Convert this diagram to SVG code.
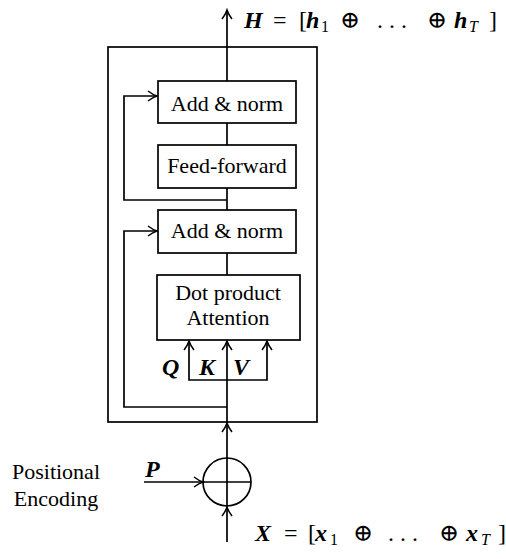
<svg xmlns="http://www.w3.org/2000/svg" width="506" height="559" viewBox="0 0 506 559">
<style>
.box{fill:#fff;stroke:#000;stroke-width:1.7}
.ln{fill:none;stroke:#000;stroke-width:1.7}
.t{font-family:"Liberation Serif","DejaVu Serif",serif;font-size:22px;fill:#000;text-anchor:middle}
.m{font-family:"Liberation Serif","DejaVu Serif",serif;font-size:24px;fill:#000}
.bi{font-weight:bold;font-style:italic}
.it{font-style:italic}
.sub{font-size:16px}
</style>
<defs>
<marker id="arr" viewBox="-11 -7 13 14" refX="0" refY="0" markerWidth="13" markerHeight="14" markerUnits="userSpaceOnUse" orient="auto">
<path d="M-9,-5 Q-4,-1.2 0,0 Q-4,1.2 -9,5" fill="none" stroke="#000" stroke-width="1.5"/>
</marker>
</defs>
<rect id="encoder" class="box" x="108" y="47" width="209" height="375" fill="none"/>
<g id="connectors">
<line class="ln" x1="227" y1="81" x2="227" y2="10" marker-end="url(#arr)"/>
<line class="ln" x1="227" y1="123" x2="227" y2="145"/>
<line class="ln" x1="227" y1="188" x2="227" y2="210"/>
<line class="ln" x1="227" y1="253" x2="227" y2="275"/>
<path class="ln" d="M227,200 H124 V96 H157" marker-end="url(#arr)"/>
<path class="ln" d="M227,407 H124 V231 H157" marker-end="url(#arr)"/>
<line class="ln" x1="227" y1="458" x2="227" y2="423" marker-end="url(#arr)"/>
<line class="ln" x1="227" y1="422" x2="227" y2="341" marker-end="url(#arr)"/>
<path class="ln" d="M227,380 H189 V341" marker-end="url(#arr)"/>
<path class="ln" d="M227,380 H267 V341" marker-end="url(#arr)"/>
<line class="ln" x1="144" y1="482" x2="203" y2="482" marker-end="url(#arr)"/>
<line class="ln" x1="227" y1="542" x2="227" y2="507" marker-end="url(#arr)"/>
</g>
<g id="addnorm1"><rect class="box" x="158" y="81" width="138" height="42"/><text class="t" x="227" y="111">Add &amp; norm</text></g>
<g id="feedforward"><rect class="box" x="158" y="145" width="138" height="43"/><text class="t" x="227" y="173">Feed-forward</text></g>
<g id="addnorm2"><rect class="box" x="158" y="210" width="138" height="43"/><text class="t" x="227" y="238">Add &amp; norm</text></g>
<g id="attention"><rect class="box" x="157" y="275" width="143" height="65"/><text class="t" x="228" y="300" font-size="21">Dot product</text><text class="t" x="228" y="325" font-size="21">Attention</text></g>
<g id="qkv">
<text class="m bi" x="162" y="375" font-size="18">Q</text>
<text class="m bi" x="199" y="375" font-size="18">K</text>
<text class="m bi" x="233" y="375" font-size="18">V</text>
</g>
<g id="sum">
<circle class="ln" cx="227" cy="482" r="24"/>
<line class="ln" x1="227" y1="458" x2="227" y2="506"/>
<line class="ln" x1="203" y1="482" x2="251" y2="482"/>
</g>
<g id="posenc">
<text class="t" x="56" y="479">Positional</text>
<text class="t" x="56" y="506">Encoding</text>
<text class="m bi" x="145" y="477" font-size="21">P</text>
</g>
<g id="output">
<text class="m"><tspan class="bi" x="244" y="28">H</tspan><tspan x="273" y="28">=</tspan><tspan x="299" y="28">[</tspan><tspan class="bi" x="306" y="28">h</tspan><tspan class="sub" x="321" y="32">1</tspan><tspan x="340" y="28">⊕</tspan><tspan x="377" y="28">. . .</tspan><tspan x="427" y="28">⊕</tspan><tspan class="bi" x="454" y="28">h</tspan><tspan class="sub it" x="469" y="32">T</tspan><tspan x="489" y="28">]</tspan></text>
</g>
<g id="input">
<text class="m"><tspan class="bi" x="255" y="541">X</tspan><tspan x="284" y="541">=</tspan><tspan x="308" y="541">[</tspan><tspan class="bi" x="315" y="541">x</tspan><tspan class="sub" x="330" y="545">1</tspan><tspan x="353" y="541">⊕</tspan><tspan x="388" y="541">. . .</tspan><tspan x="439" y="541">⊕</tspan><tspan class="bi" x="466" y="541">x</tspan><tspan class="sub it" x="481" y="545">T</tspan><tspan x="498" y="541">]</tspan></text>
</g>
</svg>
